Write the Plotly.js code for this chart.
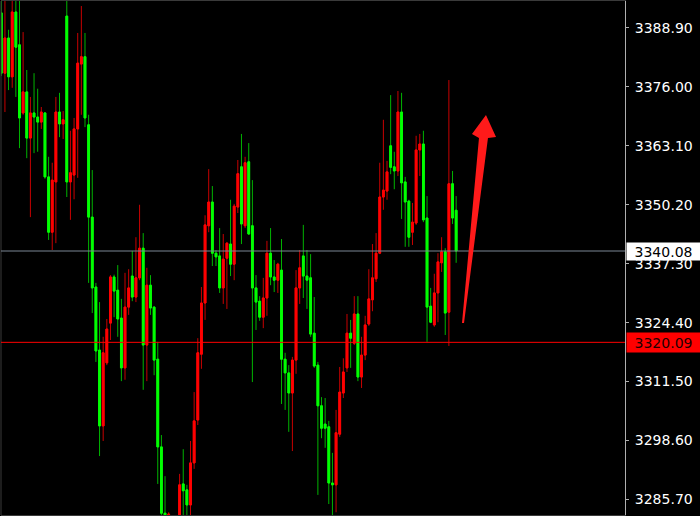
<!DOCTYPE html>
<html>
<head>
<meta charset="utf-8">
<script src="https://cdn.plot.ly/plotly-3.0.1.min.js"></script>
<style>html,body{margin:0;padding:0;background:#000;}#chart{width:700px;height:516px;}</style>
</head>
<body>
<div id="chart"></div>
<script>
// OHLC values (price), one entry per bar, left to right
const opens = [3392.2,3379.0,3386.7,3378.2,3392.4,3385.2,3370.3,3374.9,3364.8,3370.3,
3369.4,3368.3,3370.3,3356.3,3344.2,3355.2,3370.5,3367.9,3391.5,3355.2,
3356.7,3366.8,3381.0,3382.6,3367.7,3347.5,3332.2,3318.4,3301.8,3315.6,
3324.3,3334.4,3331.5,3325.4,3314.5,3327.8,3334.6,3330.0,3334.2,3340.7,
3319.5,3332.6,3327.8,3316.4,3297.2,3282.7,3277.9,3280.7,3275.1,3279.0,
3289.1,3287.8,3284.5,3293.7,3303.1,3317.5,3328.7,3345.6,3350.8,3339.6,
3339.0,3332.0,3338.5,3341.6,3337.2,3349.7,3358.5,3345.6,3359.6,3345.6,
3332.0,3329.1,3325.6,3329.8,3339.6,3334.4,3333.7,3335.9,3316.4,3313.4,
3309.0,3316.2,3332.0,3339.0,3334.6,3334.2,3322.1,3315.1,3306.2,3302.2,
3301.6,3289.3,3288.9,3300.0,3309.0,3314.5,3322.1,3319.9,3326.3,3312.5,
3317.3,3324.1,3329.4,3334.0,3339.6,3351.9,3353.2,3363.1,3358.5,3357.6,
3370.5,3355.2,3351.0,3344.2,3346.2,3362.2,3363.5,3347.3,3328.0,3323.9,
3330.9,3337.5,3339.9,3326.7,3354.8,3349.0];
const highs = [3395.7,3395.7,3388.5,3395.7,3395.7,3395.7,3388.0,3379.7,3373.8,3379.0,
3375.6,3371.6,3370.5,3360.7,3359.4,3373.8,3374.7,3370.7,3395.7,3366.4,
3369.2,3387.8,3393.7,3387.8,3369.9,3357.8,3333.1,3328.9,3321.3,3325.2,
3334.8,3334.9,3337.0,3329.6,3335.3,3336.1,3340.1,3343.1,3350.2,3344.0,
3336.4,3334.8,3328.0,3320.2,3299.8,3290.8,3282.9,3281.2,3281.4,3291.3,
3296.7,3288.9,3298.5,3309.2,3321.0,3332.2,3347.9,3358.0,3354.3,3340.3,
3345.1,3343.8,3342.0,3351.3,3350.4,3360.0,3365.7,3360.7,3363.7,3355.6,
3334.8,3330.2,3334.2,3342.3,3345.1,3338.1,3337.5,3342.7,3317.8,3315.1,
3316.9,3335.9,3340.3,3345.8,3340.3,3339.4,3330.0,3315.8,3308.1,3307.9,
3302.9,3295.9,3305.3,3314.7,3316.6,3326.3,3325.0,3330.2,3330.2,3321.3,
3325.9,3336.1,3341.6,3344.0,3359.4,3368.8,3359.8,3374.2,3361.8,3375.1,
3374.7,3356.3,3351.3,3350.6,3365.3,3365.7,3366.4,3352.1,3332.0,3335.1,
3339.6,3343.1,3340.7,3377.5,3357.6,3352.1];
const lows = [3378.4,3370.5,3375.3,3375.8,3373.8,3362.6,3369.9,3360.4,3347.5,3361.5,
3361.8,3366.8,3355.9,3342.5,3340.3,3341.8,3365.0,3364.6,3351.9,3346.9,
3351.4,3356.1,3369.9,3367.2,3333.1,3326.5,3315.8,3295.2,3298.5,3315.1,
3320.6,3325.6,3321.3,3311.6,3311.9,3326.1,3329.1,3328.9,3333.7,3309.7,
3311.6,3326.1,3312.9,3289.1,3279.0,3276.8,3275.7,3273.5,3274.2,3277.9,
3281.2,3281.2,3281.2,3292.4,3302.0,3314.3,3325.0,3344.2,3336.8,3336.8,
3330.9,3328.5,3327.4,3334.6,3333.7,3348.4,3341.6,3345.1,3343.6,3311.4,
3322.8,3324.8,3323.2,3325.9,3332.6,3331.1,3330.9,3306.6,3305.3,3300.5,
3296.3,3313.2,3328.5,3329.8,3327.4,3321.3,3314.5,3286.7,3299.1,3297.0,
3284.7,3282.3,3282.9,3299.4,3307.9,3313.6,3314.5,3319.5,3311.6,3310.1,
3316.2,3323.7,3326.9,3333.3,3339.4,3349.1,3351.3,3356.9,3353.6,3356.5,
3347.1,3341.0,3341.0,3341.4,3345.8,3356.5,3346.4,3320.2,3324.3,3323.5,
3324.5,3335.5,3321.7,3319.3,3346.0,3337.5];
const closes = [3379.0,3386.7,3378.2,3392.4,3384.7,3369.2,3374.9,3364.8,3370.3,3369.4,
3368.3,3370.5,3356.3,3344.2,3355.6,3370.5,3367.9,3368.8,3355.2,3357.2,
3366.8,3381.2,3382.6,3369.2,3347.5,3332.0,3318.2,3301.8,3317.8,3323.0,
3334.4,3331.3,3325.2,3314.5,3327.8,3332.0,3330.0,3334.2,3340.7,3319.5,
3332.6,3327.6,3316.2,3297.2,3282.7,3280.1,3282.5,3275.7,3280.1,3288.9,
3287.6,3284.5,3293.7,3302.9,3317.8,3328.7,3345.8,3350.8,3339.6,3338.8,
3332.0,3338.3,3341.8,3337.2,3349.9,3357.0,3346.0,3359.4,3343.8,3332.0,
3328.9,3325.6,3329.8,3339.6,3334.4,3333.7,3337.2,3316.4,3313.4,3309.0,
3316.2,3332.0,3336.4,3334.6,3333.7,3321.9,3314.9,3306.2,3301.3,3301.3,
3289.3,3288.9,3300.3,3309.2,3313.6,3322.1,3321.0,3326.3,3312.5,3317.3,
3323.9,3329.6,3334.2,3339.6,3351.9,3353.4,3357.4,3358.4,3357.6,3370.5,
3355.0,3350.8,3343.1,3346.4,3362.2,3363.5,3346.9,3327.8,3324.5,3330.9,
3337.7,3339.9,3326.5,3354.8,3347.3,3340.08];

// right-axis tick labels
const tickValues = [3388.90,3376.00,3363.10,3350.20,3337.30,3324.40,3311.50,3298.60,3285.70];
const tickLabels = ["3388.90","3376.00","3363.10","3350.20","3337.30","3324.40","3311.50","3298.60","3285.70"];

// marked price levels
const bidLevel = 3340.08;
const supportLevel = 3320.09;

const xs = opens.map((_, i) => i);
const bodyHi = opens.map((o, i) => Math.max(o, closes[i]));
const bodyLo = opens.map((o, i) => Math.min(o, closes[i]));

const wicks = {
  type: 'candlestick', x: xs, open: opens, high: highs, low: lows, close: closes,
  increasing: {line: {color: '#c80000', width: 1}, fillcolor: '#ff0000'},
  decreasing: {line: {color: '#00b400', width: 1}, fillcolor: '#00ff00'},
  whiskerwidth: 0, showlegend: false, hoverinfo: 'skip'
};
const bodies = {
  type: 'candlestick', x: xs, open: opens, high: bodyHi, low: bodyLo, close: closes,
  increasing: {line: {color: '#ff0000', width: 1}, fillcolor: '#ff0000'},
  decreasing: {line: {color: '#00ff00', width: 1}, fillcolor: '#00ff00'},
  whiskerwidth: 0, showlegend: false, hoverinfo: 'skip'
};

const layout = {
  width: 700, height: 516,
  margin: {l: 1, r: 75, t: 1, b: 1, pad: 0},
  paper_bgcolor: '#000000', plot_bgcolor: '#000000',
  showlegend: false,
  xaxis: {range: [-0.08, 171.4], visible: true, showticklabels: false, ticks: '',
          showgrid: false, zeroline: false, showline: true, mirror: true,
          linecolor: '#3a3a3a', linewidth: 1, rangeslider: {visible: false}, fixedrange: true},
  yaxis: {range: [3282.3, 3394.8], side: 'right', showgrid: false, zeroline: false,
          showline: true, linecolor: '#b0b0b0', linewidth: 1,
          tickmode: 'array', tickvals: tickValues, ticktext: tickLabels,
          ticks: 'outside', ticklen: 3, tickcolor: '#b0b0b0', ticklabelstandoff: 3,
          tickfont: {family: 'DejaVu Sans', size: 14, color: '#ffffff'}, fixedrange: true},
  shapes: [
    {type: 'line', xref: 'paper', yref: 'paper', x0: 0, x1: 0, y0: 0, y1: 1,
     line: {color: '#3a3a3a', width: 1}},
    {type: 'line', xref: 'paper', yref: 'y', x0: 0, x1: 1, y0: bidLevel, y1: bidLevel,
     line: {color: '#7a8694', width: 1}},
    {type: 'line', xref: 'paper', yref: 'y', x0: 0, x1: 1, y0: supportLevel, y1: supportLevel,
     line: {color: '#ff0000', width: 1}},
    {type: 'path', xref: 'paper', yref: 'paper',
     path: 'M 0.7388 0.3735 L 0.7660 0.7335 L 0.7548 0.7412 L 0.7772 0.7782 L 0.7933 0.7354 L 0.7804 0.7335 L 0.7420 0.3735 Z',
     fillcolor: '#ff1a1a', line: {width: 0}}
  ],
  annotations: [
    {xref: 'paper', yref: 'y', x: 1, y: bidLevel, xanchor: 'left', yanchor: 'middle', xshift: 1,
     text: bidLevel.toFixed(2), showarrow: false, bgcolor: '#ffffff', width: 71, height: 15,
     borderpad: 1, align: 'center', font: {family: 'DejaVu Sans', size: 14, color: '#000000'}},
    {xref: 'paper', yref: 'y', x: 1, y: supportLevel, xanchor: 'left', yanchor: 'middle', xshift: 1,
     text: supportLevel.toFixed(2), showarrow: false, bgcolor: '#ff0000', width: 71, height: 17,
     borderpad: 1, align: 'center', font: {family: 'DejaVu Sans', size: 14, color: '#200000'}}
  ]
};

Plotly.newPlot('chart', [wicks, bodies], layout, {staticPlot: true, displayModeBar: false});
</script>
</body>
</html>
